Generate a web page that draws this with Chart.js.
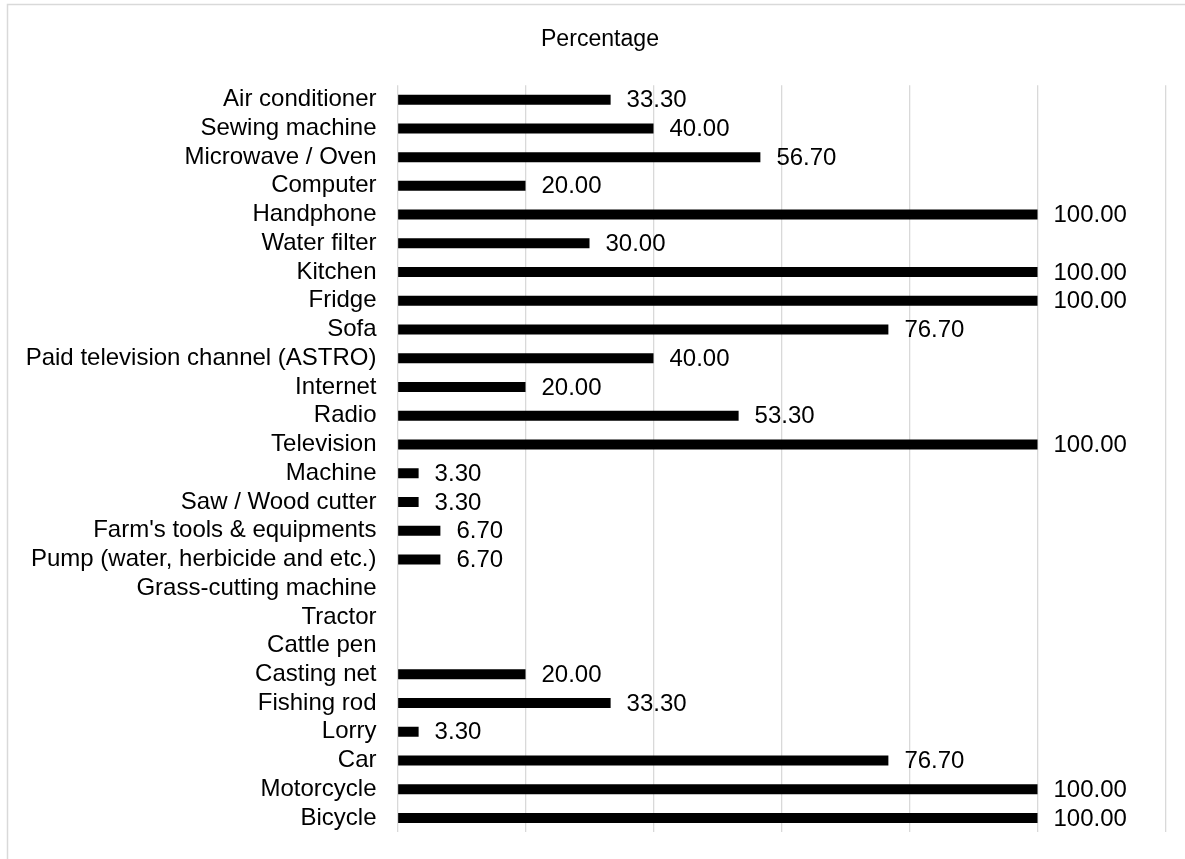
<!DOCTYPE html>
<html>
<head>
<meta charset="utf-8">
<script src="https://cdn.jsdelivr.net/npm/chart.js@4/dist/chart.umd.min.js"></script>
<style>
  html, body { margin: 0; padding: 0; background: #ffffff; }
  #wrap { width: 1185px; height: 859px; position: relative; }
</style>
</head>
<body>
<div id="wrap"><canvas id="chart"></canvas></div>
<script>
// Household items owned, share of households (%)
const categories = [
  "Air conditioner",
  "Sewing machine",
  "Microwave / Oven",
  "Computer",
  "Handphone",
  "Water filter",
  "Kitchen",
  "Fridge",
  "Sofa",
  "Paid television channel (ASTRO)",
  "Internet",
  "Radio",
  "Television",
  "Machine",
  "Saw / Wood cutter",
  "Farm's tools & equipments",
  "Pump (water, herbicide and etc.)",
  "Grass-cutting machine",
  "Tractor",
  "Cattle pen",
  "Casting net",
  "Fishing rod",
  "Lorry",
  "Car",
  "Motorcycle",
  "Bicycle"
];

const percentages = [
  33.3, 40.0, 56.7, 20.0, 100.0, 30.0, 100.0, 100.0, 76.7, 40.0,
  20.0, 53.3, 100.0, 3.3, 3.3, 6.7, 6.7, 0, 0, 0,
  20.0, 33.3, 3.3, 76.7, 100.0, 100.0
];

const axisTicks = [0, 20, 40, 60, 80, 100, 120];
const chartTitle = "Percentage";

const FONT = "'Liberation Sans', Arial, sans-serif";

// White page with the light frame around the chart
const framePlugin = {
  id: 'frame',
  beforeDraw(chart) {
    const ctx = chart.ctx;
    ctx.save();
    ctx.fillStyle = '#ffffff';
    ctx.fillRect(0, 0, chart.width, chart.height);
    ctx.strokeStyle = '#d9d9d9';
    ctx.lineWidth = 1.5;
    ctx.beginPath();
    ctx.moveTo(7.5, chart.height);
    ctx.lineTo(7.5, 4.5);
    ctx.lineTo(chart.width, 4.5);
    ctx.stroke();
    // chart title
    ctx.fillStyle = '#000000';
    ctx.font = "23.1px " + FONT;
    ctx.textAlign = 'center';
    ctx.textBaseline = 'alphabetic';
    ctx.fillText(chartTitle, 600, 46);
    ctx.restore();
  }
};

// Value labels to the right of each bar
const valueLabels = {
  id: 'valueLabels',
  afterDatasetsDraw(chart) {
    const ctx = chart.ctx;
    const meta = chart.getDatasetMeta(0);
    const data = chart.data.datasets[0].data;
    ctx.save();
    ctx.fillStyle = '#000000';
    ctx.font = "24px " + FONT;
    ctx.textAlign = 'left';
    ctx.textBaseline = 'middle';
    meta.data.forEach((bar, i) => {
      const v = data[i];
      if (!v) return;
      ctx.fillText(v.toFixed(2), bar.x + 16, bar.y + 1);
    });
    ctx.restore();
  }
};

new Chart(document.getElementById('chart'), {
  type: 'bar',
  data: {
    labels: categories,
    datasets: [{
      data: percentages,
      backgroundColor: '#000000',
      borderWidth: 0,
      categoryPercentage: 1.0,
      barPercentage: 0.348
    }]
  },
  options: {
    indexAxis: 'y',
    responsive: true,
    maintainAspectRatio: false,
    animation: false,
    layout: { padding: { top: 85.3, bottom: 26.6, right: 19.5, left: 0 } },
    plugins: {
      legend: { display: false },
      title: { display: false },
      tooltip: { enabled: false }
    },
    scales: {
      x: {
        type: 'linear',
        min: axisTicks[0],
        max: axisTicks[axisTicks.length - 1],
        afterBuildTicks(scale) { scale.ticks = axisTicks.map(v => ({ value: v })); },
        afterFit(scale) { scale.height = 0; scale.paddingLeft = 0; scale.paddingRight = 0; },
        ticks: { display: false },
        grid: { color: '#d9d9d9', lineWidth: 1.3, drawTicks: false },
        border: { display: false }
      },
      y: {
        afterFit(scale) {
          scale.width = 397.5;
          scale.paddingTop = 0;
          scale.paddingBottom = 0;
        },
        ticks: {
          color: '#000000',
          padding: 21,
          autoSkip: false,
          font: { family: FONT, size: 24 }
        },
        grid: { display: false, drawTicks: false },
        border: { display: false }
      }
    }
  },
  plugins: [framePlugin, valueLabels]
});
</script>
</body>
</html>
